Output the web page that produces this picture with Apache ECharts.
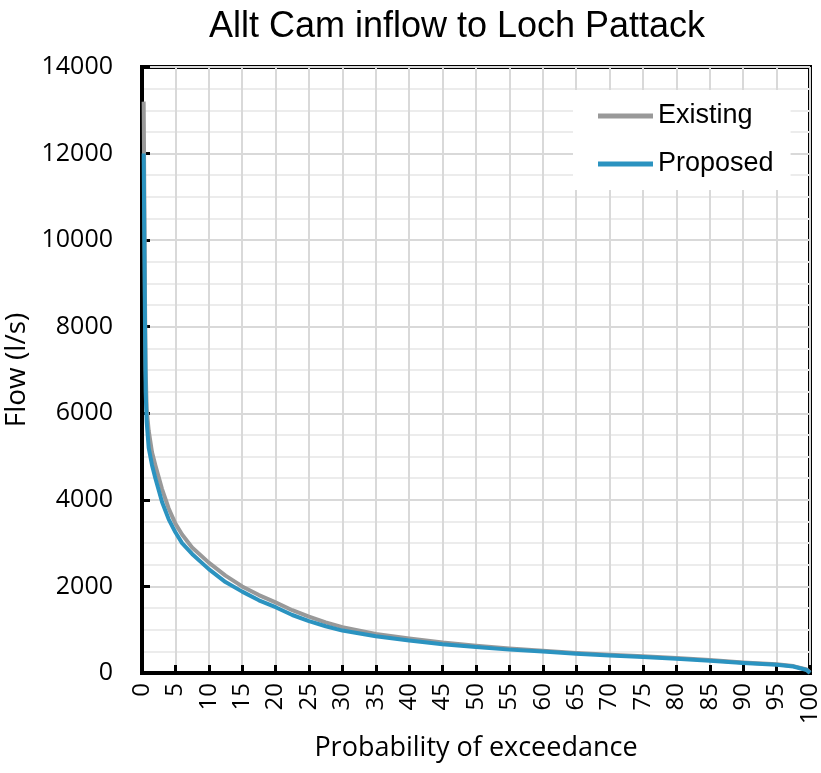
<!DOCTYPE html>
<html>
<head>
<meta charset="utf-8">
<script src="https://cdn.jsdelivr.net/npm/echarts@6/dist/echarts.min.js"></script>
<style>
  html, body { margin: 0; padding: 0; background: #fff; }
  #chart { width: 821px; height: 773px; }
</style>
</head>
<body>
<div id="chart"></div>
<script>
// probability of exceedance (%) for each read point
const probExisting = [0.25, 0.35, 0.45, 0.55, 0.7, 1, 1.5, 2, 3, 4, 5, 6, 7.5, 10, 12.5, 15, 17.5, 20, 22.5, 25, 27.5, 30, 35, 40, 45, 50, 55, 60, 65, 70, 75, 80, 85, 90, 95, 97.5, 99.5, 100];
const flowExisting = [13200, 11000, 8600, 7000, 6100, 5600, 5100, 4800, 4250, 3800, 3450, 3200, 2900, 2550, 2250, 2000, 1800, 1630, 1450, 1300, 1170, 1060, 900, 800, 705, 630, 565, 515, 465, 420, 385, 345, 300, 245, 200, 160, 80, 10];

const probProposed = [0.25, 0.35, 0.45, 0.55, 0.7, 1, 1.5, 2, 3, 4, 5, 6, 7.5, 10, 12.5, 15, 17.5, 20, 22.5, 25, 27.5, 30, 35, 40, 45, 50, 55, 60, 65, 70, 75, 80, 85, 90, 95, 97.5, 99.5, 100];
const flowProposed = [12000, 10000, 8000, 6500, 5800, 5200, 4800, 4500, 3950, 3550, 3250, 3000, 2750, 2400, 2100, 1880, 1680, 1520, 1340, 1200, 1080, 980, 850, 750, 665, 600, 540, 495, 445, 405, 368, 330, 285, 230, 190, 150, 70, 0];

const seriesNames = ["Existing", "Proposed"];

const toPairs = (xs, ys) => xs.map((x, i) => [x, ys[i]]);

const myChart = echarts.init(document.getElementById("chart"));

const option = {
  animation: false,
  backgroundColor: "#fff",
  title: {
    text: "Allt Cam inflow to Loch Pattack",
    left: 452,
    top: 4,
    textAlign: "center",
    textStyle: {
      fontFamily: "Liberation Sans",
      fontSize: 36,
      fontWeight: "normal",
      color: "#000",
    },
  },
  grid: {
    left: 142,
    right: 11,
    top: 67,
    bottom: 100,
    outerBoundsMode: "none",
    containLabel: false,
    show: true,
    backgroundColor: "#fff",
    borderColor: "#000",
    borderWidth: 4,
  },
  legend: {
    orient: "vertical",
    left: 573,
    top: 90,
    data: seriesNames,
    icon: "rect",
    backgroundColor: "#fff",
    padding: [12, 17, 12, 25],
    itemWidth: 55,
    itemHeight: 5,
    itemGap: 20,
    textStyle: {
      fontFamily: "Liberation Sans",
      fontSize: 27,
      lineHeight: 28,
      color: "#000",
    },
  },
  xAxis: {
    type: "value",
    min: 0,
    max: 100,
    interval: 5,
    name: "Probability of exceedance",
    nameLocation: "middle",
    nameGap: 62,
    nameTextStyle: { fontFamily: "Open Sans", fontSize: 27, color: "#000" },
    axisLine: { show: true, onZero: false, lineStyle: { color: "#000", width: 4 } },
    axisTick: { show: true, inside: true, length: 8, lineStyle: { color: "#000", width: 3 } },
    axisLabel: {
      rotate: 90,
      margin: 10,
      fontFamily: "Open Sans",
      fontSize: 24,
      color: "#000",
    },
    splitLine: { show: true, lineStyle: { color: "#d9d9d9", width: 2 } },
  },
  yAxis: {
    type: "value",
    min: 0,
    max: 14000,
    interval: 2000,
    name: "Flow (l/s)",
    nameLocation: "middle",
    nameGap: 113,
    nameTextStyle: { fontFamily: "Open Sans", fontSize: 28, color: "#000", verticalAlign: "middle" },
    axisLine: { show: true, lineStyle: { color: "#000", width: 4 } },
    axisTick: { show: true, inside: true, length: 8, lineStyle: { color: "#000", width: 3 } },
    axisLabel: {
      margin: 29,
      fontFamily: "Open Sans",
      fontSize: 25,
      color: "#000",
      formatter: (v) => String(v),
    },
    splitLine: { show: true, lineStyle: { color: "#d9d9d9", width: 2 } },
    minorTick: { show: false, splitNumber: 4 },
    minorSplitLine: { show: true, lineStyle: { color: "#ececec", width: 2 } },
  },
  series: [
    {
      name: "Existing",
      type: "line",
      data: toPairs(probExisting, flowExisting),
      symbol: "none",
      lineStyle: { color: "#999999", width: 4, join: "round" },
      itemStyle: { color: "#999999" },
      z: 3,
    },
    {
      name: "Proposed",
      type: "line",
      data: toPairs(probProposed, flowProposed),
      symbol: "none",
      lineStyle: { color: "#2b93c0", width: 4, join: "round" },
      itemStyle: { color: "#2b93c0" },
      z: 4,
    },
  ],
};

myChart.setOption(option);

window.addEventListener("resize", () => {
  myChart.resize();
});
</script>
</body>
</html>
